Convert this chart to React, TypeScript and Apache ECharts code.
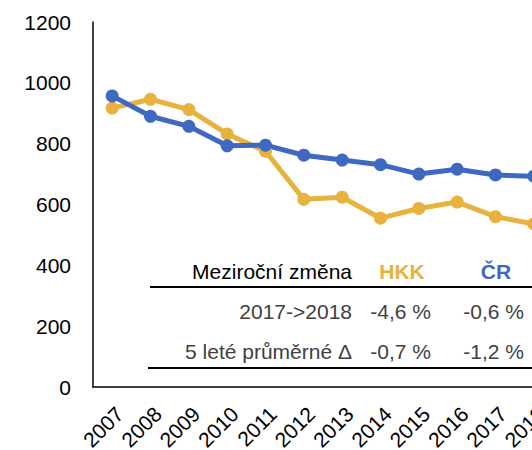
import React, { useEffect, useRef } from "react";
import * as echarts from "echarts";

const years = ["2007", "2008", "2009", "2010", "2011", "2012", "2013", "2014", "2015", "2016", "2017", "2018"];
const hkk = [917, 946, 912, 832, 775, 617, 624, 555, 587, 608, 560, 536];
const cr = [957, 890, 857, 793, 795, 762, 746, 731, 700, 716, 697, 693];
const yTicks = { min: 0, max: 1200, interval: 200 };

const tableHeader = ["Meziroční změna", "HKK", "ČR"];
const rowLabels = ["2017->2018", "5 leté průměrné Δ"];
const hkkChanges = ["-4,6 %", "-0,7 %"];
const crChanges = ["-0,6 %", "-1,2 %"];

const YELLOW = "#E8B23E";
const BLUE = "#3F68C0";
const FONT = "Liberation Sans";

export default function App() {
  const ref = useRef<HTMLDivElement>(null);
  useEffect(() => {
    if (!ref.current) return;
    const chart = echarts.init(ref.current, null, { renderer: "svg" });
    const rowY = [311, 351];
    const graphic: any[] = [
      { type: "line", shape: { x1: 150, y1: 287, x2: 532, y2: 287 }, style: { stroke: "#000", lineWidth: 2 } },
      { type: "line", shape: { x1: 148, y1: 368, x2: 532, y2: 368 }, style: { stroke: "#000", lineWidth: 2 } },
      { type: "text", x: 352, y: 271, style: { text: tableHeader[0], fill: "#000", font: `21px '${FONT}'`, align: "right", verticalAlign: "middle" } },
      { type: "text", x: 402, y: 271, style: { text: tableHeader[1], fill: YELLOW, font: `bold 21px '${FONT}'`, align: "center", verticalAlign: "middle" } },
      { type: "text", x: 496, y: 271, style: { text: tableHeader[2], fill: BLUE, font: `bold 21px '${FONT}'`, align: "center", verticalAlign: "middle" } },
    ];
    rowLabels.forEach((lab, i) => {
      graphic.push({ type: "text", x: 352, y: rowY[i], style: { text: lab, fill: "#404040", font: `21px '${FONT}'`, align: "right", verticalAlign: "middle" } });
      graphic.push({ type: "text", x: 431, y: rowY[i], style: { text: hkkChanges[i], fill: "#404040", font: `21px '${FONT}'`, align: "right", verticalAlign: "middle" } });
      graphic.push({ type: "text", x: 524, y: rowY[i], style: { text: crChanges[i], fill: "#404040", font: `21px '${FONT}'`, align: "right", verticalAlign: "middle" } });
    });
    chart.setOption({
      animation: false,
      backgroundColor: "#fff",
      grid: { left: 93, top: 22, bottom: 63, right: -21, containLabel: false, outerBoundsMode: "none" },
      xAxis: {
        type: "category",
        data: years,
        boundaryGap: true,
        axisLine: { lineStyle: { color: "#000", width: 1.5 } },
        axisTick: { show: false },
        axisLabel: { rotate: 45, margin: 16, verticalAlign: "top", color: "#000", fontSize: 21, fontFamily: FONT, interval: 0 },
      },
      yAxis: {
        type: "value",
        min: yTicks.min,
        max: yTicks.max,
        interval: yTicks.interval,
        axisLine: { show: true, lineStyle: { color: "#000", width: 1.5 } },
        axisTick: { show: false },
        splitLine: { show: false },
        axisLabel: { margin: 22, color: "#000", fontSize: 21, fontFamily: FONT, formatter: (v: number) => String(v) },
      },
      series: [
        {
          name: "HKK",
          type: "line",
          data: hkk,
          symbol: "circle",
          symbolSize: 13,
          itemStyle: { color: YELLOW },
          lineStyle: { color: YELLOW, width: 5 },
        },
        {
          name: "ČR",
          type: "line",
          data: cr,
          symbol: "circle",
          symbolSize: 13,
          itemStyle: { color: BLUE },
          lineStyle: { color: BLUE, width: 5 },
        },
      ],
      graphic,
    });
    return () => chart.dispose();
  }, []);
  return (
    <div
      ref={ref}
      style={{ position: "fixed", left: 0, top: 0, width: 532, height: 450 }}
    />
  );
}
